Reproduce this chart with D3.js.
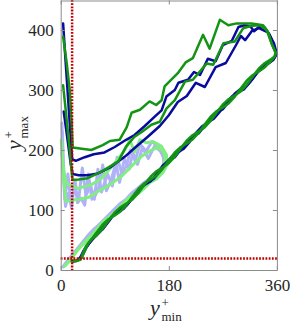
<!DOCTYPE html>
<html>
<head>
<meta charset="utf-8">
<script src="https://cdn.jsdelivr.net/npm/d3@7"></script>
<style>
html,body{margin:0;padding:0;background:#fff;}
svg{display:block;}
</style>
</head>
<body>
<svg id="chart" width="291" height="324"></svg>
<script>
// ---- data (y+_min, y+_max) ----
const xTicks = [0, 180, 360];
const yTicks = [0, 100, 200, 300, 400];
const threshold = 19;

const lightBlue1 = [[2,245],[3,210],[4,170],[6,130],[8,106],[13,128],[18,104],[24,150],[28,112],[34,120],[40,108],[46,160],[52,118],[58,125],[64,140],[70,175],[76,132],[84,150],[92,178],[98,146],[106,185],[114,168],[120,196],[128,176],[136,204],[146,186],[156,206],[166,198],[173,184],[170,168],[162,158],[155,152],[145,148],[135,142],[125,130],[115,121],[105,113],[95,106],[85,96],[75,84],[65,75],[55,68],[45,57],[35,44],[25,31],[15,19],[8,10],[4,5]];
const lightBlue2 = [[3,230],[4,190],[6,150],[7,118],[12,160],[17,112],[22,135],[30,118],[36,170],[42,125],[50,140],[56,118],[62,168],[68,130],[78,160],[86,140],[94,188],[102,160],[110,175],[116,200],[124,182],[132,210],[142,198],[152,214],[162,206],[170,194],[172,178],[166,164],[158,155],[148,152],[138,145],[128,136],[118,128],[108,117],[98,110],[88,100],[78,90],[68,80],[58,70],[48,60],[38,48],[28,36],[18,24],[10,14],[5,7]];
const lightGreen1 = [[1,217],[3,180],[5,150],[9,114],[24,117],[46,121],[62,131],[82,142],[101,156],[118,173],[134,189],[148,198],[160,204],[170,199],[174,186],[171,172],[163,160],[155,152],[145,148],[135,138],[125,127],[115,122],[105,112],[95,102],[85,90],[75,84],[65,74],[55,62],[45,50],[35,41],[25,29],[15,16],[8,8]];
const lightGreen2 = [[2,195],[5,165],[9,146],[13,142],[29,136],[51,142],[68,153],[85,172],[101,192],[110,205],[115,217],[123,197],[132,217],[143,212],[154,214],[168,206],[176,192],[177,175],[170,162],[160,152],[150,147],[140,137],[130,128],[120,123],[110,116],[100,104],[90,95],[80,88],[70,80],[60,66],[50,56],[40,47],[30,36],[20,22],[12,12],[6,6]];

const blue1 = [[4,411],[8,350],[12,290],[16,230],[19,185],[25,182],[40,188],[55,193],[73,196],[90,205],[109,217],[123,225],[140,240],[157,256],[168,266],[176,289],[190,300],[196,312],[212,317],[222,330],[232,325],[245,352],[258,348],[270,375],[285,382],[296,405],[306,408],[316,406],[322,398],[330,405],[340,404],[348,392],[355,375],[359,360],[354,350],[345,344],[335,338],[325,326],[315,313],[305,301],[295,296],[285,289],[275,278],[265,264],[255,252],[245,246],[235,239],[225,228],[215,214],[205,202],[195,196],[185,189],[175,178],[165,164],[155,152],[145,146],[135,139],[125,128],[115,114],[105,102],[95,96],[85,89],[75,77],[65,63],[55,53],[46,43],[38,32],[32,20],[26,15],[20,14]];
const blue2 = [[5,264],[9,235],[13,205],[17,175],[20,160],[30,158],[45,158],[62,161],[84,172],[107,189],[125,205],[145,222],[165,240],[180,258],[195,280],[210,290],[225,312],[240,305],[258,338],[275,345],[292,375],[300,390],[307,383],[318,398],[330,403],[345,396],[355,378],[360,360],[355,352],[348,346],[340,341],[330,333],[320,319],[310,307],[300,302],[290,294],[280,281],[270,268],[260,262],[250,254],[240,241],[230,228],[220,222],[210,214],[200,201],[190,188],[180,182],[170,174],[160,161],[150,148],[140,142],[130,134],[120,121],[110,108],[100,102],[90,94],[80,81],[70,68],[60,60],[50,48],[42,36],[36,24],[28,16],[21,15]];
const green1 = [[4,389],[10,345],[15,300],[18,250],[20,204],[35,202],[51,200],[70,208],[82,215],[98,217],[110,238],[118,262],[132,267],[148,281],[159,275],[168,283],[173,306],[195,328],[208,346],[220,353],[237,392],[248,369],[265,417],[279,408],[293,411],[318,411],[337,408],[346,395],[352,375],[358,362],[356,356],[350,351],[340,345],[330,336],[320,323],[310,309],[300,298],[290,291],[280,285],[270,276],[260,263],[250,249],[240,238],[230,231],[220,225],[210,216],[200,203],[190,189],[180,178],[170,171],[160,165],[150,156],[140,143],[130,129],[120,118],[110,111],[100,105],[90,96],[80,83],[70,69],[60,58],[50,50],[42,40],[37,28],[33,17],[25,15],[18,14]];
const green2 = [[4,308],[8,270],[12,230],[16,190],[19,155],[20,150],[30,151],[45,153],[68,164],[96,181],[109,206],[123,222],[135,230],[151,242],[165,247],[176,269],[190,283],[207,314],[220,317],[243,344],[254,342],[271,378],[290,381],[304,403],[318,407],[332,408],[343,400],[351,378],[358,362],[356,355],[350,348],[340,338],[330,331],[320,325],[310,316],[300,303],[290,289],[280,278],[270,271],[260,265],[250,256],[240,243],[230,229],[220,218],[210,211],[200,205],[190,196],[180,183],[170,169],[160,158],[150,151],[140,145],[130,136],[120,123],[110,109],[100,98],[90,91],[80,85],[70,76],[60,63],[52,52],[46,44],[40,32],[35,20],[28,16],[20,15]];

const series = [
  {data: lightBlue1, color: "#b0b2f8", w: 3},
  {data: lightBlue2, color: "#b0b2f8", w: 3},
  {data: lightGreen1, color: "#80ee80", w: 3},
  {data: lightGreen2, color: "#80ee80", w: 3},
  {data: blue1, color: "#0a0a9c", w: 2.5},
  {data: blue2, color: "#0a0a9c", w: 2.5},
  {data: green1, color: "#149414", w: 2.5},
  {data: green2, color: "#149414", w: 2.5}
];

// ---- scales ----
const L = 60.7, R = 276.9, T = 0, B = 270;
const x = d3.scaleLinear().domain([0, 360]).range([L, R]);
const y = d3.scaleLinear().domain([0, 450]).range([B, T]);

const svg = d3.select("#chart");
const font = "'Liberation Serif', 'Times New Roman', serif";

// lines
const line = d3.line().x(d => x(d[0])).y(d => y(d[1]));
svg.append("g").selectAll("path").data(series).join("path")
  .attr("d", d => line(d.data))
  .attr("fill", "none")
  .attr("stroke", d => d.color)
  .attr("stroke-width", d => d.w)
  .attr("stroke-linejoin", "round")
  .attr("stroke-linecap", "round");

// threshold dotted lines
const red = "#c00000";
svg.append("line")
  .attr("x1", x(threshold)).attr("x2", x(threshold))
  .attr("y1", y(450)).attr("y2", y(0))
  .attr("stroke", red).attr("stroke-width", 2.5).attr("stroke-dasharray", "1.8,1.4");
svg.append("line")
  .attr("x1", x(0)).attr("x2", x(360))
  .attr("y1", y(threshold)).attr("y2", y(threshold))
  .attr("stroke", red).attr("stroke-width", 2.5).attr("stroke-dasharray", "1.8,1.4");

// axes
const axColor = "#8a8a8a";
function styleAxis(g) {
  g.select(".domain").attr("stroke", axColor).attr("stroke-width", 1);
  g.selectAll(".tick line").attr("stroke", axColor).attr("stroke-width", 1);
  g.selectAll(".tick text").attr("fill", "#262626").attr("font-family", font).attr("font-size", 17);
}
svg.append("g").attr("transform", `translate(0,${B})`)
  .call(d3.axisBottom(x).tickValues(xTicks).tickSize(-4).tickSizeOuter(0).tickPadding(9).tickFormat(d3.format("d")))
  .call(styleAxis);
svg.append("g").attr("transform", `translate(0,${T + 0.5})`)
  .call(d3.axisTop(x).tickValues(xTicks).tickSize(-4).tickSizeOuter(0).tickFormat(""))
  .call(styleAxis);
svg.append("g").attr("transform", `translate(${L},0)`)
  .call(d3.axisLeft(y).tickValues(yTicks).tickSize(-4).tickSizeOuter(0).tickPadding(7).tickFormat(d3.format("d")))
  .call(styleAxis);
svg.append("g").attr("transform", `translate(${R},0)`)
  .call(d3.axisRight(y).tickValues(yTicks).tickSize(-4).tickSizeOuter(0).tickFormat(""))
  .call(styleAxis);

// axis labels
function mathLabel(g, sub) {
  g.append("text").attr("x", 0).attr("y", 0).attr("font-family", font).attr("font-style", "italic")
    .attr("font-size", 22).attr("fill", "#262626").text("y");
  g.append("text").attr("x", 11.5).attr("y", -8).attr("font-family", font)
    .attr("font-size", 13).attr("fill", "#262626").text("+");
  g.append("text").attr("x", 11.5).attr("y", 6.5).attr("font-family", font)
    .attr("font-size", 13).attr("fill", "#262626").text(sub);
}
mathLabel(svg.append("g").attr("transform", "translate(150,314.5)"), "min");
mathLabel(svg.append("g").attr("transform", "translate(21,150) rotate(-90)"), "max");
</script>
</body>
</html>
